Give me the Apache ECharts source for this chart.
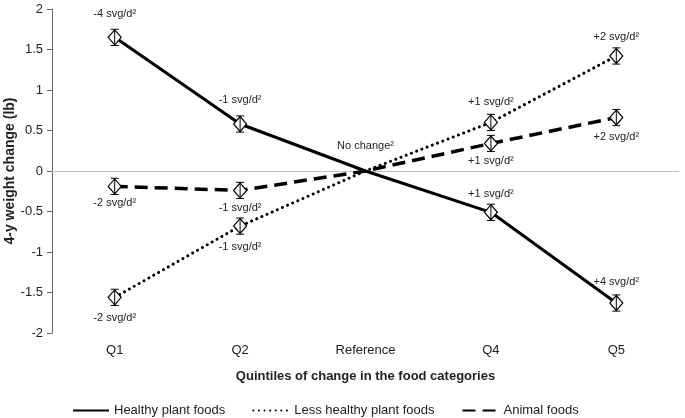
<!DOCTYPE html>
<html><head><meta charset="utf-8">
<script src="https://cdn.jsdelivr.net/npm/echarts@6/dist/echarts.min.js"></script>
<style>html,body{margin:0;padding:0;background:#fff}#c{width:685px;height:418px}</style>
</head><body><div id="c"></div>
<script>
const categories = ['Q1', 'Q2', 'Reference', 'Q4', 'Q5'];
const healthy = [1.65, 0.58, 0, -0.51, -1.63];
const lessHealthy = [-1.56, -0.68, 0, 0.60, 1.42];
const animal = [-0.19, -0.24, 0, 0.34, 0.66];
const errHalf = [0.1, 0.1, 0, 0.1, 0.1];
const healthyLabels = ['-4 svg/d²', '-1 svg/d²', 'No change²', '+1 svg/d²', '+4 svg/d²'];
const lessLabels = ['-2 svg/d²', '-1 svg/d²', '', '+1 svg/d²', '+2 svg/d²'];
const animalLabels = ['-2 svg/d²', '-1 svg/d²', '', '+1 svg/d²', '+2 svg/d²'];
const seriesNames = ['Healthy plant foods', 'Less healthy plant foods', 'Animal foods'];

const FONT = 'Liberation Sans, Arial, sans-serif';
const labelBase = {show: true, fontFamily: FONT, fontSize: 11, color: '#222'};

function makeData(values, labels, positions, distances) {
  return values.map((v, i) => {
    const item = {value: v};
    if (i === 2) {
      item.symbol = 'circle';
      item.symbolSize = 1;
      item.itemStyle = {color: 'rgba(0,0,0,0)', borderWidth: 0};
    }
    if (labels[i]) {
      item.label = Object.assign({}, labelBase, {formatter: labels[i], position: positions[i], distance: distances[i]});
    } else {
      item.label = {show: false};
    }
    return item;
  });
}

function errorSeries(values) {
  return {
    type: 'custom',
    silent: true,
    z: 3,
    data: values.map((v, i) => [i, v - errHalf[i], v + errHalf[i]]).filter((d, i) => errHalf[i] > 0),
    renderItem: function (params, api) {
      const x = api.value(0);
      const lo = api.coord([x, api.value(1)]);
      const hi = api.coord([x, api.value(2)]);
      const w = 4;
      const st = {stroke: '#000', lineWidth: 1};
      return {type: 'group', children: [
        {type: 'line', shape: {x1: lo[0], y1: lo[1], x2: hi[0], y2: hi[1]}, style: st},
        {type: 'line', shape: {x1: lo[0] - w, y1: lo[1], x2: lo[0] + w, y2: lo[1]}, style: st},
        {type: 'line', shape: {x1: hi[0] - w, y1: hi[1], x2: hi[0] + w, y2: hi[1]}, style: st}
      ]};
    }
  };
}

const markerStyle = {color: '#fff', borderColor: '#000', borderWidth: 1.2};

const option = {
  animation: false,
  backgroundColor: '#fff',
  grid: {left: 52, right: 6, top: 9, bottom: 85, containLabel: false, outerBoundsMode: 'none'},
  xAxis: {
    type: 'category', data: categories, boundaryGap: true,
    axisLine: {show: false}, axisTick: {show: false},
    axisLabel: {fontFamily: FONT, fontSize: 13, color: '#222', margin: 11},
    name: 'Quintiles of change in the food categories', nameLocation: 'middle', nameGap: 37,
    nameTextStyle: {fontFamily: FONT, fontSize: 13, fontWeight: 'bold', color: '#222'}
  },
  yAxis: {
    type: 'value', min: -2, max: 2, interval: 0.5,
    axisLine: {show: true, lineStyle: {color: '#666', width: 1}},
    axisTick: {show: true, length: 5, lineStyle: {color: '#666'}},
    splitLine: {show: false},
    axisLabel: {fontFamily: FONT, fontSize: 13, color: '#222', margin: 9,
      formatter: v => String(v)},
    name: '4-y weight change (lb)', nameLocation: 'middle', nameGap: 35, nameRotate: 90,
    nameMoveOverlap: false,
    nameTextStyle: {fontFamily: FONT, fontSize: 14, fontWeight: 'bold', color: '#222'}
  },
  legend: {
    top: 399, left: 67, itemWidth: 36, itemHeight: 10, itemGap: 27,
    data: seriesNames,
    textStyle: {fontFamily: FONT, fontSize: 13, color: '#222'},
    itemStyle: {opacity: 0}
  },
  series: [
    {
      name: seriesNames[0], type: 'line', z: 2,
      data: makeData(healthy, healthyLabels, ['top','top','top','top','top'], [10, 10, 19, 5, 7]),
      symbol: 'diamond', symbolSize: [13, 15], itemStyle: markerStyle,
      lineStyle: {color: '#000', width: 3, type: 'solid'},
      markLine: {silent: true, symbol: 'none', label: {show: false},
        lineStyle: {color: '#bfbfbf', width: 1, type: 'solid'}, data: [{yAxis: 0}], z: 1}
    },
    {
      name: seriesNames[1], type: 'line', z: 2,
      data: makeData(lessHealthy, lessLabels, ['bottom','bottom','top','top','top'], [7, 7, 5, 7, 5]),
      symbol: 'diamond', symbolSize: [13, 15], itemStyle: markerStyle,
      lineStyle: {color: '#000', width: 3, type: [0.1, 5.5], cap: 'round'}
    },
    {
      name: seriesNames[2], type: 'line', z: 2,
      data: makeData(animal, animalLabels, ['bottom','bottom','top','bottom','bottom'], [3, 4, 5, 4, 6]),
      symbol: 'diamond', symbolSize: [13, 15], itemStyle: markerStyle,
      lineStyle: {color: '#000', width: 3.5, type: [13, 7]}
    },
    errorSeries(healthy),
    errorSeries(lessHealthy),
    errorSeries(animal)
  ]
};
const chart = echarts.init(document.getElementById('c'), null, {renderer: 'canvas'});
chart.setOption(option);
</script></body></html>
